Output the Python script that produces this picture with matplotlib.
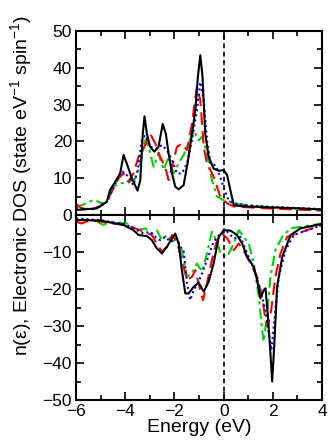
import numpy as np
import matplotlib.pyplot as plt
from matplotlib.ticker import MultipleLocator

plt.rcParams['font.family'] = ['Liberation Sans', 'DejaVu Sans']
plt.rcParams['mathtext.default'] = 'regular'

# spin up (upper panel)
black_up_x = [-6, -5.16, -4.75, -4.62, -4.41, -4.21, -4.07, -3.94, -3.73, -3.5, -3.39, -3.29, -3.22, -3.12,
              -2.99, -2.82, -2.65, -2.48, -2.35, -2.24, -2.1, -1.97, -1.83, -1.63, -1.47, -1.29, -1.15, -1.05,
              -0.95, -0.86, -0.75, -0.61, -0.41, -0.2, 0.0, 0.14, 0.27, 0.41, 0.68, 1.77, 3.12, 4.0]
black_up_y = [1.35, 1.8, 3.6, 6.8, 9.0, 11.3, 16.3, 14, 9.9, 6.6, 9.5, 22, 26.8, 22,
              18.5, 17.2, 18.5, 24.7, 22, 16.7, 11.3, 7.7, 7.0, 8.1, 14, 22, 28.5, 37.5,
              43.4, 37.5, 22, 15.8, 12.6, 12, 12.2, 10.8, 6.8, 2.7, 2.4, 2.1, 1.8, 1.5]

blue_up_x = [-6, -5.3, -4.8, -4.41, -4.14, -3.87, -3.67, -3.5, -3.33, -3.19, -2.99, -2.72, -2.51, -2.31,
             -2.1, -1.9, -1.7, -1.49, -1.29, -1.09, -0.95, -0.81, -0.68, -0.54, -0.34, -0.14, 0.03, 0.2,
             0.41, 1.0, 2.0, 3.0, 4.0]
blue_up_y = [1.8, 1.6, 3.2, 8.5, 12, 10.4, 8.1, 12, 20.3, 21.7, 18.5, 18, 19, 17.6,
             14.9, 11.3, 11.3, 14, 20.3, 28.5, 36.1, 31, 20.3, 14, 13.5, 10.4, 6.8, 4,
             3.2, 2.6, 2.2, 1.9, 1.6]

red_up_x = [-6, -5.77, -5.43, -5.02, -4.62, -4.28, -4.07, -3.87, -3.67, -3.46, -3.26, -2.99, -2.78, -2.58,
            -2.38, -2.24, -2.1, -1.9, -1.7, -1.49, -1.29, -1.09, -0.95, -0.81, -0.68, -0.41, -0.14, 0.14,
            0.41, 1.77, 4.0]
red_up_y = [3.0, 1.8, 1.5, 2.3, 5.4, 9.9, 11.3, 9, 11.3, 15.8, 18, 22.1, 19.4, 15.8,
            13.1, 9.5, 13.1, 18.5, 19.4, 17.6, 24.8, 34.8, 31.2, 18.5, 14, 10.4, 5, 3.2,
            2.3, 1.8, 1.2]

green_up_x = [-6, -5.57, -5.3, -5.09, -4.89, -4.68, -4.48, -4.21, -3.87, -3.6, -3.39, -3.19, -3.05, -2.85,
              -2.65, -2.44, -2.24, -2.04, -1.83, -1.63, -1.43, -1.22, -1.02, -0.88, -0.68, -0.48, -0.27, 0.0,
              0.27, 0.54, 1.5, 3.0, 4.0]
green_up_y = [2.1, 3.2, 4.1, 3.6, 3.0, 4.1, 7.7, 8.6, 8.8, 9.9, 14, 20.3, 18.5, 13.1,
              16.7, 12.2, 15.8, 11.3, 14, 16.3, 19.4, 23, 20.3, 21.2, 16.7, 9.5, 5, 4,
              3.6, 3.0, 2.3, 1.7, 1.2]

# spin down (lower panel)
black_dn_x = [-6, -5.02, -4.07, -3.67, -3.46, -3.12, -2.92, -2.72, -2.51, -2.31, -2.1, -1.97, -1.83, -1.7,
              -1.56, -1.43, -1.22, -1.02, -0.81, -0.61, -0.41, -0.2, 0.0, 0.27, 0.54, 0.75, 0.95, 1.22,
              1.36, 1.49, 1.63, 1.7, 1.8, 1.9, 1.97, 2.06, 2.17, 2.38, 2.72, 3.12, 4.0]
black_dn_y = [-1.35, -1.5, -2.7, -4.1, -5.4, -5.7, -6.8, -9.0, -10.4, -8.6, -6.3, -5, -7.7, -14.9,
              -21.2, -21.2, -19.4, -18.3, -20.7, -18, -13.1, -5.9, -4.1, -4.2, -5.4, -7.7, -11.3, -14,
              -17.6, -22.5, -20.3, -19.8, -27.5, -37.4, -45, -34.7, -19.4, -11.3, -5.4, -3.6, -2.4]

blue_dn_x = [-6, -5.0, -4.0, -3.67, -3.26, -2.99, -2.78, -2.58, -2.38, -2.17, -1.9, -1.77, -1.63, -1.49,
             -1.36, -1.22, -1.02, -0.88, -0.68, -0.41, -0.14, 0.14, 0.41, 0.68, 0.95, 1.22, 1.49, 1.7,
             1.83, 1.94, 2.06, 2.24, 2.51, 2.85, 4.0]
blue_dn_y = [-0.9, -1.4, -2.5, -3.6, -5, -4.5, -5.9, -6.8, -5.9, -7.2, -6.3, -8.6, -9.5, -18.5,
             -23, -20.3, -18, -15.8, -12.2, -7.2, -5, -4.5, -6.3, -5.9, -10.4, -14.4, -20.3, -25.7,
             -32, -36.5, -28.4, -16.7, -9.5, -5.4, -2.7]

red_dn_x = [-6, -5.77, -5.43, -4.75, -3.94, -3.26, -2.92, -2.72, -2.51, -2.31, -2.1, -1.9, -1.7, -1.49,
            -1.29, -1.15, -0.95, -0.84, -0.68, -0.48, -0.27, -0.07, 0.14, 0.41, 0.61, 0.88, 1.09, 1.36,
            1.56, 1.7, 1.79, 1.93, 2.1, 2.31, 2.58, 4.0]
red_dn_y = [-1.8, -2.3, -1.35, -2.1, -2.7, -4.5, -5.4, -7.7, -9.9, -8.6, -5.4, -7.2, -12.2, -17.6,
            -16.7, -14.9, -20.3, -23, -18.5, -12.2, -6.8, -5, -6.3, -9.5, -7.7, -10.4, -13.1, -16.7,
            -22.1, -28.4, -30.2, -25.7, -16.7, -10.4, -5.9, -2.7]

green_dn_x = [-6, -5.3, -4.89, -4.62, -3.94, -3.53, -3.19, -2.92, -2.72, -2.51, -2.31, -2.1, -1.9, -1.7,
              -1.49, -1.29, -1.09, -0.88, -0.68, -0.48, -0.27, -0.11, 0.14, 0.41, 0.61, 0.81, 1.02, 1.22,
              1.43, 1.56, 1.63, 1.77, 1.9, 2.1, 2.38, 2.72, 4.0]
green_dn_y = [-1.35, -1.35, -2.7, -1.8, -2.3, -4.1, -3.6, -5, -4.1, -6.8, -5.4, -7.2, -6.3, -9.5,
              -16.7, -15.8, -13.1, -15.3, -10.4, -4.5, -7.2, -10.8, -11.3, -7.7, -4.1, -5.9, -7.7, -13.1,
              -22.1, -31.1, -34.2, -26.6, -16.7, -9.5, -5.9, -3.6, -2.3]

fig = plt.figure(figsize=(3.28, 4.47), dpi=100)
ax1 = fig.add_axes([0.232, 0.519, 0.75, 0.412])
ax2 = fig.add_axes([0.232, 0.105, 0.75, 0.414], sharex=ax1)

styles = [
    dict(color='#00d400', lw=1.5, dashes=(5, 2, 1.5, 2)),
    dict(color='#ff0000', lw=1.5, dashes=(6, 3)),
    dict(color='#0000ff', lw=1.5, dashes=(1, 1.5)),
    dict(color='black', lw=1.5),
]
up = [(green_up_x, green_up_y), (red_up_x, red_up_y), (blue_up_x, blue_up_y), (black_up_x, black_up_y)]
dn = [(green_dn_x, green_dn_y), (red_dn_x, red_dn_y), (blue_dn_x, blue_dn_y), (black_dn_x, black_dn_y)]
for (x, y), st in zip(up, styles):
    ax1.plot(x, y, **st)
for (x, y), st in zip(dn, styles):
    ax2.plot(x, y, **st)

for ax in (ax1, ax2):
    ax.axvline(0, color='black', lw=1.2, dashes=(3, 2))
    ax.set_xlim(-6, 4)
    ax.xaxis.set_major_locator(MultipleLocator(2))
    ax.xaxis.set_minor_locator(MultipleLocator(1))
    ax.yaxis.set_major_locator(MultipleLocator(10))
    ax.yaxis.set_minor_locator(MultipleLocator(5))
    ax.tick_params(which='both', direction='in', top=True, right=True, labelsize=12.5, width=1.2)
    ax.tick_params(which='major', length=6, pad=3)
    ax.tick_params(which='minor', length=3.5)
    for s in ax.spines.values():
        s.set_linewidth(1.5)

ax1.set_ylim(0, 50)
ax2.set_ylim(-50, 0)
ax2.set_yticks([-50, -40, -30, -20, -10])
ax1.tick_params(labelbottom=False)
ax2.set_xlabel('Energy (eV)', fontsize=14, labelpad=0)

fig.text(0.065, 0.585, 'n(ε), Electronic DOS (state eV$^{-1}$ spin$^{-1}$)',
         rotation=90, ha='center', va='center', fontsize=14)

fig.savefig('out.png', dpi=100)
